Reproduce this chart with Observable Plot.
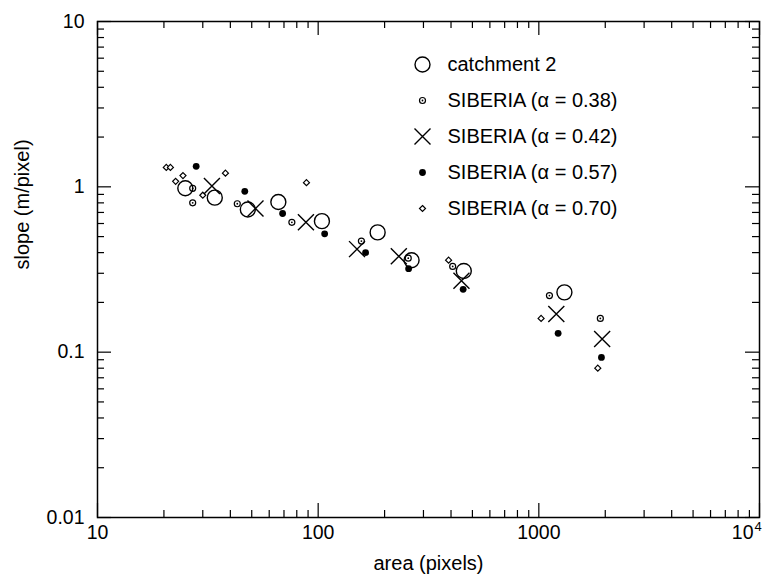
<!DOCTYPE html>
<html><head><meta charset="utf-8">
<script src="https://cdn.jsdelivr.net/npm/d3@7"></script>
<script src="https://cdn.jsdelivr.net/npm/@observablehq/plot@0.6"></script>
<style>body{margin:0;background:#fff;} #chart{position:absolute;left:0;top:0;}</style>
</head><body><div id="chart"></div>
<script>
// ---- data ----
const catchmentArea = [25, 34, 48, 66, 104, 186, 265, 457, 1306];
const catchmentSlope = [0.98, 0.86, 0.73, 0.81, 0.62, 0.53, 0.36, 0.31, 0.23];
const sib038Area = [27, 27, 43, 76, 157, 256, 407, 1117, 1900];
const sib038Slope = [0.98, 0.80, 0.79, 0.61, 0.47, 0.37, 0.33, 0.22, 0.16];
const sib042Area = [33, 52, 88, 150, 232, 446, 1200, 1936];
const sib042Slope = [1.01, 0.74, 0.61, 0.42, 0.38, 0.27, 0.17, 0.12];
const sib057Area = [28, 46.5, 69, 107, 164, 257, 454, 1223, 1922];
const sib057Slope = [1.33, 0.94, 0.69, 0.52, 0.40, 0.32, 0.24, 0.13, 0.093];
const sib070Area = [20.5, 21.4, 22.6, 24.4, 30, 38, 88.5, 390, 1024, 1850];
const sib070Slope = [1.31, 1.31, 1.08, 1.17, 0.89, 1.21, 1.06, 0.36, 0.16, 0.080];

const legendLabels = ["catchment 2", "SIBERIA (\u03B1 = 0.38)", "SIBERIA (\u03B1 = 0.42)", "SIBERIA (\u03B1 = 0.57)", "SIBERIA (\u03B1 = 0.70)"];

const xTickValues = [10, 100, 1000, 10000];
const xTickLabels = ["10", "100", "1000", ""];   // 10^4 is drawn as base + exponent below
const xPowerTick = [10000];
const xPowerBase = "10";
const xPowerExp = "4";
const yTickValues = [0.01, 0.1, 1, 10];
const yTickLabels = ["0.01", "0.1", "1", "10"];
const xMinor = [20,30,40,50,60,70,80,90,200,300,400,500,600,700,800,900,2000,3000,4000,5000,6000,7000,8000,9000];
const yMinor = [0.02,0.03,0.04,0.05,0.06,0.07,0.08,0.09,0.2,0.3,0.4,0.5,0.6,0.7,0.8,0.9,2,3,4,5,6,7,8,9];

// ---- layout ----
const W = 768, H = 577, mL = 97, mR = 9, mT = 21, mB = 60;
const innerW = W - mL - mR, innerH = H - mT - mB;
const majorLen = 14, minorLen = 7;

const pts = (a, s) => a.map((v, i) => ({area: v, slope: s[i]}));
const catchment = pts(catchmentArea, catchmentSlope);
const s038 = pts(sib038Area, sib038Slope);
const s042 = pts(sib042Area, sib042Slope);
const s057 = pts(sib057Area, sib057Slope);
const s070 = pts(sib070Area, sib070Slope);

// custom symbols with fixed pixel geometry
const xSym = {draw(ctx) { const s = 8; ctx.moveTo(-s, -s); ctx.lineTo(s, s); ctx.moveTo(s, -s); ctx.lineTo(-s, s); }};
const diamondSym = {draw(ctx) { const s = 3; ctx.moveTo(0, -s); ctx.lineTo(s, 0); ctx.lineTo(0, s); ctx.lineTo(-s, 0); ctx.closePath(); }};

const styles = [
  [{symbol: "circle", r: 7.5, fill: "none", stroke: "#000", strokeWidth: 1.4}],
  [{symbol: "circle", r: 3, fill: "#fff", stroke: "#000", strokeWidth: 1.2}, {symbol: "circle", r: 0.9, fill: "#000", stroke: "none"}],
  [{symbol: xSym, fill: "none", stroke: "#000", strokeWidth: 1.4}],
  [{symbol: "circle", r: 3.4, fill: "#000", stroke: "none"}],
  [{symbol: diamondSym, fill: "#fff", stroke: "#000", strokeWidth: 1.2}]
];
const seriesData = [catchment, s038, s042, s057, s070];

const marks = [];
// ticks (inward on all sides)
marks.push(Plot.tickX(xTickValues, {x: d => d, insetTop: innerH - majorLen, stroke: "#000", strokeWidth: 1.2}));
marks.push(Plot.tickX(xTickValues, {x: d => d, insetBottom: innerH - majorLen, stroke: "#000", strokeWidth: 1.2}));
marks.push(Plot.tickX(xMinor, {x: d => d, insetTop: innerH - minorLen, stroke: "#000", strokeWidth: 1.2}));
marks.push(Plot.tickX(xMinor, {x: d => d, insetBottom: innerH - minorLen, stroke: "#000", strokeWidth: 1.2}));
marks.push(Plot.tickY(yTickValues, {y: d => d, insetRight: innerW - majorLen, stroke: "#000", strokeWidth: 1.2}));
marks.push(Plot.tickY(yTickValues, {y: d => d, insetLeft: innerW - majorLen, stroke: "#000", strokeWidth: 1.2}));
marks.push(Plot.tickY(yMinor, {y: d => d, insetRight: innerW - minorLen, stroke: "#000", strokeWidth: 1.2}));
marks.push(Plot.tickY(yMinor, {y: d => d, insetLeft: innerW - minorLen, stroke: "#000", strokeWidth: 1.2}));
marks.push(Plot.frame({stroke: "#000", strokeWidth: 1.5}));

// axes labels
marks.push(Plot.axisX({ticks: xTickValues, tickSize: 0, tickPadding: 8, tickFormat: d => xTickLabels[xTickValues.indexOf(d)], label: null, fontSize: 19.5}));
marks.push(Plot.text(xPowerTick, {x: d => d, text: () => xPowerBase, frameAnchor: "bottom", dy: 8, dx: -6, lineAnchor: "top", textAnchor: "end", fontSize: 19.5}));
marks.push(Plot.text(xPowerTick, {x: d => d, text: () => xPowerExp, frameAnchor: "bottom", dy: 4, dx: -5, lineAnchor: "top", textAnchor: "start", fontSize: 13}));
marks.push(Plot.axisY({ticks: yTickValues, tickSize: 0, tickPadding: 13, tickFormat: d => yTickLabels[yTickValues.indexOf(d)], label: null, fontSize: 19.5}));
marks.push(Plot.text(["area (pixels)"], {text: d => d, frameAnchor: "bottom", dy: 46, fontSize: 20, lineAnchor: "middle"}));
marks.push(Plot.text(["slope (m/pixel)"], {text: d => d, frameAnchor: "left", dx: -75, rotate: -90, fontSize: 20, lineAnchor: "middle"}));

// data points: draw order diamonds, rings, filled, X, circles
[4, 1, 3, 2, 0].forEach(k => {
  styles[k].forEach(st => marks.push(Plot.dot(seriesData[k], {x: "area", y: "slope", ...st})));
});

// legend
legendLabels.forEach((lab, i) => {
  styles[i].forEach(st => marks.push(Plot.dot([lab], {frameAnchor: "top-left", dx: 325, dy: 43 + 36 * i, ...st})));
  marks.push(Plot.text([lab], {text: d => d, frameAnchor: "top-left", dx: 350, dy: 43 + 36 * i, textAnchor: "start", lineAnchor: "middle", fontSize: 20}));
});

const chart = Plot.plot({
  width: W, height: H,
  marginLeft: mL, marginRight: mR, marginTop: mT, marginBottom: mB,
  x: {type: "log", domain: [10, 10000]},
  y: {type: "log", domain: [0.01, 10]},
  style: {fontFamily: "'Liberation Sans', Arial, Helvetica, sans-serif", fontSize: "19.5px", color: "#000", background: "#fff"},
  marks
});
document.getElementById("chart").appendChild(chart);
</script>
</body></html>
